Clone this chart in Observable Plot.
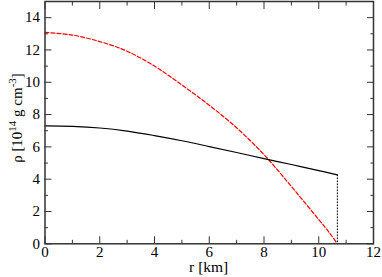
<!DOCTYPE html>
<html><head>
<meta charset="utf-8">
<script src="https://cdn.jsdelivr.net/npm/d3@7"></script>
<script src="https://cdn.jsdelivr.net/npm/@observablehq/plot@0.6"></script>
<style>body{margin:0;background:#fff;} svg{display:block;} svg text{font-family:'Liberation Serif', serif !important;}</style>
</head><body><div id="chart"></div>
<script>
// Solid black curve
const rBlack = [0, 1, 2, 3, 4, 5, 6, 7, 8, 9, 10, 10.68];
const rhoBlack = [7.30, 7.27, 7.17, 6.98, 6.70, 6.38, 6.02, 5.65, 5.27, 4.91, 4.53, 4.27];
// Dashed red curve
const rRed = [0, 1, 2, 3, 4, 5, 6, 7, 8, 9, 10, 10.4, 10.68];
const rhoRed = [13.09, 12.92, 12.52, 11.92, 11.0, 9.83, 8.58, 7.18, 5.52, 3.55, 1.5, 0.66, 0];
// Dotted surface discontinuity
const rSurface = [10.68, 10.68];
const rhoSurface = [4.27, 0];

const xMajor = [0, 2, 4, 6, 8, 10, 12];
const xMinor = [1, 3, 5, 7, 9, 11];
const yMajor = [0, 2, 4, 6, 8, 10, 12, 14];
const yMinor = [1, 3, 5, 7, 9, 11, 13];

const black = rBlack.map((r, i) => ({r, rho: rhoBlack[i]}));
const red = rRed.map((r, i) => ({r, rho: rhoRed[i]}));
const surface = rSurface.map((r, i) => ({r, rho: rhoSurface[i]}));

const font = "'Liberation Serif', serif";
const axisColor = "#333";
const none = () => "";

const chart = Plot.plot({
  width: 382,
  height: 277,
  marginLeft: 44.5,
  marginRight: 9,
  marginTop: 1,
  marginBottom: 33.7,
  style: "font-family:'Liberation Serif', serif; font-size:15px; background:#fff; color:#000;",
  x: {domain: [0, 12]},
  y: {domain: [0, 15]},
  marks: [
    Plot.line(red, {x: "r", y: "rho", stroke: "#ff0000", strokeWidth: 1.2, strokeDasharray: "4,2", curve: "catmull-rom"}),
    Plot.line(black, {x: "r", y: "rho", stroke: "#000", strokeWidth: 1.2, curve: "catmull-rom"}),
    Plot.line(surface, {x: "r", y: "rho", stroke: "#000", strokeWidth: 1, strokeDasharray: "1,2"}),
    Plot.axisX(xMajor, {anchor: "bottom", tickSize: -7, tickFormat: none, stroke: axisColor, label: null}),
    Plot.axisX(xMinor, {anchor: "bottom", tickSize: -3.5, tickFormat: none, stroke: axisColor, label: null}),
    Plot.axisX(xMajor, {anchor: "top", tickSize: -7, tickFormat: none, stroke: axisColor, label: null}),
    Plot.axisX(xMinor, {anchor: "top", tickSize: -3.5, tickFormat: none, stroke: axisColor, label: null}),
    Plot.axisY(yMajor, {anchor: "left", tickSize: -7, tickFormat: none, stroke: axisColor, label: null}),
    Plot.axisY(yMinor, {anchor: "left", tickSize: -3.5, tickFormat: none, stroke: axisColor, label: null}),
    Plot.axisY(yMajor, {anchor: "right", tickSize: -7, tickFormat: none, stroke: axisColor, label: null}),
    Plot.axisY(yMinor, {anchor: "right", tickSize: -3.5, tickFormat: none, stroke: axisColor, label: null}),
    Plot.axisX(xMajor, {anchor: "bottom", tickSize: 0, tickPadding: 3, fontSize: 15, fill: "#000", label: null}),
    Plot.axisY(yMajor, {anchor: "left", tickSize: 0, tickPadding: 5, fontSize: 15, fill: "#000", label: null}),
    Plot.frame({stroke: axisColor, strokeWidth: 1.5})
  ]
});

const svg = d3.select(chart);
svg.append("text")
  .attr("x", 208.7).attr("y", 272)
  .attr("text-anchor", "middle")
  .attr("font-family", font).attr("font-size", 15.5).attr("fill", "#000")
  .text("r [km]");

const yl = svg.append("text")
  .attr("transform", "translate(22,118) rotate(-90)")
  .attr("text-anchor", "middle")
  .attr("font-family", font).attr("font-size", 15).attr("fill", "#000");
yl.append("tspan").text("ρ [10");
yl.append("tspan").attr("dy", -6).attr("font-size", 11).text("14");
yl.append("tspan").attr("dy", 6).text(" g cm");
yl.append("tspan").attr("dy", -6).attr("font-size", 11).text("-3");
yl.append("tspan").attr("dy", 6).text("]");

document.getElementById("chart").appendChild(chart);
</script>
</body></html>
